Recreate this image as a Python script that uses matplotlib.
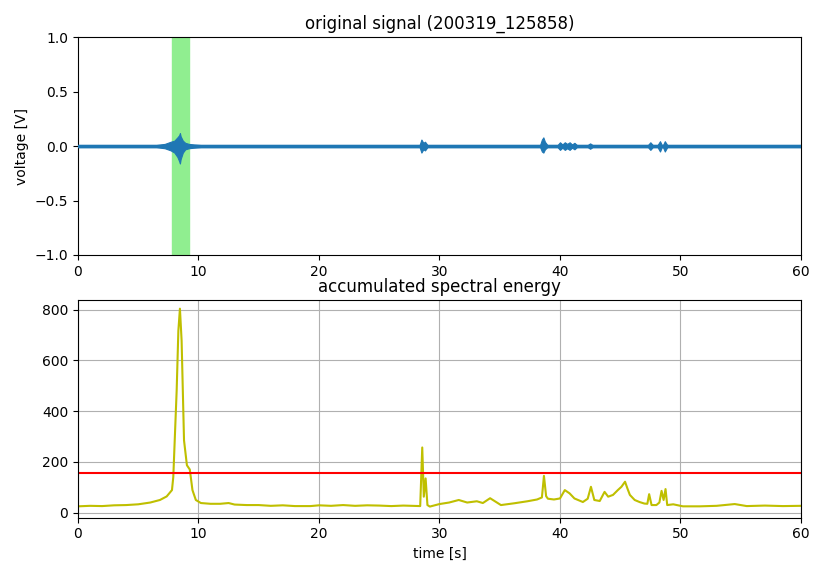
import numpy as np
import matplotlib
matplotlib.use('Agg')
import matplotlib.pyplot as plt

# envelope of the raw signal (time [s], upper / lower voltage)
sig_t = [0, 6.5, 7.2, 7.7, 8.0, 8.25, 8.4, 8.46, 8.52, 8.7, 8.9, 9.2, 9.6, 10.2,
         28.35, 28.5, 28.66, 28.8, 29.0,
         38.35, 38.5, 38.62, 38.75, 38.95,
         39.8, 40.0, 40.2, 40.4, 40.6, 40.8, 41.0, 41.2, 41.4,
         42.3, 42.5, 42.7,
         47.3, 47.5, 47.7, 48.1, 48.3, 48.45, 48.55, 48.7, 48.9, 60]
sig_hi = [0.01, 0.01, 0.02, 0.04, 0.05, 0.08, 0.1, 0.12, 0.09, 0.05, 0.03, 0.02, 0.015, 0.01,
          0.01, 0.06, 0.03, 0.04, 0.01,
          0.01, 0.06, 0.08, 0.04, 0.01,
          0.01, 0.035, 0.015, 0.035, 0.02, 0.035, 0.015, 0.03, 0.01,
          0.01, 0.025, 0.01,
          0.01, 0.035, 0.01, 0.01, 0.045, 0.01, 0.01, 0.045, 0.01, 0.01]
sig_lo = [-0.01, -0.01, -0.02, -0.04, -0.06, -0.1, -0.14, -0.16, -0.12, -0.06, -0.03, -0.02, -0.015, -0.01,
          -0.01, -0.06, -0.03, -0.04, -0.01,
          -0.01, -0.05, -0.06, -0.03, -0.01,
          -0.01, -0.035, -0.015, -0.035, -0.02, -0.035, -0.015, -0.03, -0.01,
          -0.01, -0.025, -0.01,
          -0.01, -0.035, -0.01, -0.01, -0.05, -0.01, -0.01, -0.05, -0.01, -0.01]

# accumulated spectral energy
en_t = [0, 1, 2, 3, 4, 5, 6, 6.8, 7.36, 7.8, 7.91, 8.19, 8.33, 8.46, 8.6, 8.8, 9.04,
        9.28, 9.5, 9.78, 10.2, 11, 11.8, 12.5, 13, 14, 15, 16, 17, 18, 19.3, 20, 21,
        22, 23, 24, 25, 26, 27, 28.4,
        28.57, 28.7, 28.85, 29.0, 29.2, 30.0, 30.8, 31.6, 32.3, 33.1, 33.6, 34.2, 35.1,
        36.2, 37.3, 38.1, 38.5, 38.67, 38.85, 39.0, 39.5, 40.0, 40.4, 40.8, 41.2,
        41.9, 42.3, 42.57, 42.85, 43.3, 43.7, 44.0, 44.4, 44.8, 45.1, 45.4, 45.6,
        45.8, 46.2, 46.6, 47.0, 47.25, 47.4, 47.6, 48.0, 48.25, 48.43, 48.6, 48.76,
        48.9, 49.4, 50.2, 51.6, 53, 54.5, 55.5, 57, 58.5, 60]
en_v = [25, 27, 26, 29, 30, 33, 40, 50, 64, 89, 141, 482, 717, 804, 678, 285, 187,
        170, 89, 50, 38, 35, 35, 38, 32, 30, 30, 27, 29, 26, 26, 29, 27,
        30, 27, 29, 28, 26, 28, 26,
        257, 63, 135, 30, 24, 34, 40, 50, 40, 45, 38, 57, 30,
        37, 45, 52, 60, 145, 65, 55, 52, 56, 89, 76, 56,
        42, 55, 102, 50, 46, 82, 63, 70, 89, 102, 122, 95,
        70, 50, 42, 36, 35, 73, 30, 30, 40, 86, 50, 93,
        30, 33, 25, 25, 27, 34, 26, 28, 26, 27]

threshold = 155
highlight = (7.8, 9.2)

fig = plt.figure(figsize=(8.14, 5.64), dpi=100)
ax1 = fig.add_axes([0.0958, 0.548, 0.8882, 0.386])
ax2 = fig.add_axes([0.0958, 0.082, 0.8882, 0.386])

# top: original signal
ax1.axvspan(highlight[0], highlight[1], color='lightgreen', zorder=1)
ax1.fill_between(sig_t, sig_lo, sig_hi, color='tab:blue', lw=0.8, zorder=2)
ax1.plot([sig_t[0], sig_t[-1]], [0, 0], color='tab:blue', lw=2.5, zorder=3)
ax1.set_xlim(0, 60)
ax1.set_ylim(-1, 1)
ax1.set_yticks([-1.0, -0.5, 0.0, 0.5, 1.0])
ax1.set_ylabel('voltage [V]')
ax1.set_title('original signal (200319_125858)')

# bottom: accumulated spectral energy
ax2.plot(en_t, en_v, color='y', lw=1.5)
ax2.axhline(threshold, color='r', lw=1.5)
ax2.set_xlim(0, 60)
ax2.set_ylim(-20, 838)
ax2.set_yticks([0, 200, 400, 600, 800])
ax2.grid(True)
ax2.set_xlabel('time [s]')
ax2.set_title('accumulated spectral energy')

fig.savefig('out.png', dpi=100)
